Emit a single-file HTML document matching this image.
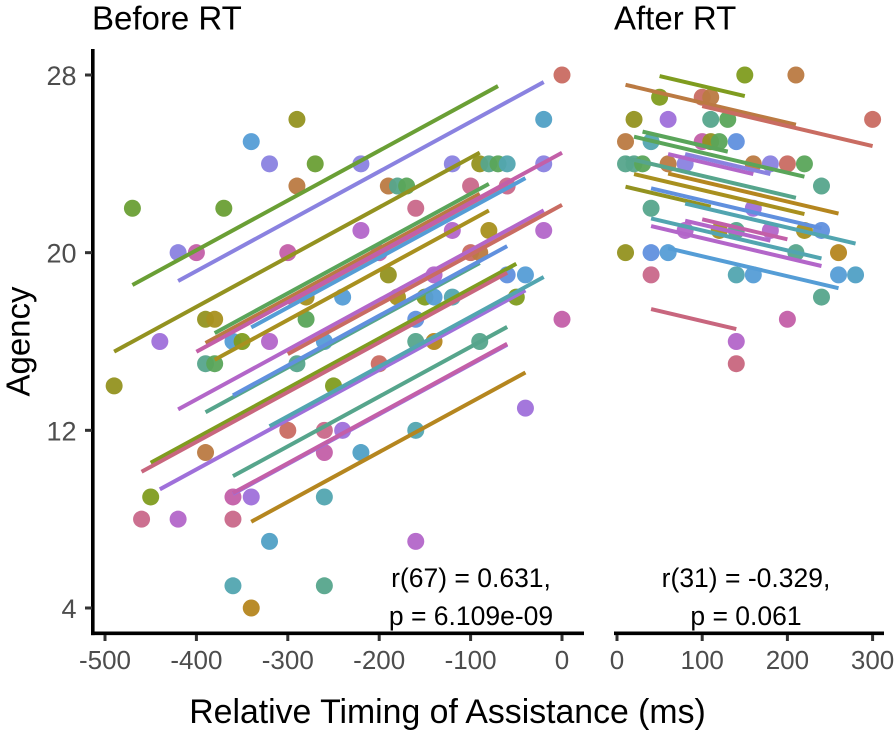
<!DOCTYPE html>
<html lang="en">
<head>
<meta charset="utf-8">
<title>Agency vs Relative Timing of Assistance</title>
<style>
html,body{margin:0;padding:0;background:#fff;}
svg{display:block;font-family:"Liberation Sans",Arial,sans-serif;}
</style>
</head>
<body>
<svg id="chart" xmlns="http://www.w3.org/2000/svg" width="896" height="737" viewBox="0 0 896 737">
  <rect width="896" height="737" fill="#fff"/>
  <g id="marks-before"></g>
  <g id="marks-after"></g>
  <g id="axes"></g>
  <text x="92" y="29.5" font-size="33" fill="#000">Before RT</text>
  <text x="614" y="29.5" font-size="33" fill="#000">After RT</text>
  <text transform="translate(29.5,341.5) rotate(-90)" text-anchor="middle" font-size="33" fill="#000">Agency</text>
  <text x="447.5" y="723" text-anchor="middle" font-size="33.8" fill="#000">Relative Timing of Assistance (ms)</text>
  <text x="471" y="587" text-anchor="middle" font-size="26.5" fill="#000">r(67) = 0.631,</text>
  <text x="471" y="625" text-anchor="middle" font-size="26.5" fill="#000">p = 6.109e-09</text>
  <text x="746" y="587" text-anchor="middle" font-size="26.5" fill="#000">r(31) = -0.329,</text>
  <text x="746" y="625" text-anchor="middle" font-size="26.5" fill="#000">p = 0.061</text>
</svg>
<script>
// Tick labels
const agencyTicks = [4, 12, 20, 28];
const beforeTimingTicks = [-500, -400, -300, -200, -100, 0];
const afterTimingTicks = [0, 100, 200, 300];

// Before RT scatter
const beforeTiming = [-490,-470,-450,-460,-440,-420,-420,-400,-390,-380,-390,-380,-390,-370,-360,-350,-360,-360,-360,-340,-340,-340,-320,-320,-320,-300,-300,-290,-290,-290,-280,-280,-270,-260,-260,-260,-260,-260,-250,-240,-240,-220,-220,-220,-200,-200,-190,-190,-180,-170,-180,-160,-160,-160,-160,-160,-150,-140,-140,-140,-120,-120,-120,-100,-100,-90,-90,-90,-80,-80,-70,-60,-60,-60,-50,-40,-40,-20,-20,-20,0,0];
const beforeAgency = [14,22,9,8,16,20,8,20,15,15,17,17,11,22,16,16,9,8,5,25,9,4,24,16,7,20,12,26,23,15,18,17,24,16,12,11,9,5,14,18,12,24,21,11,20,15,23,19,23,23,18,22,17,16,12,7,18,19,18,16,24,21,18,23,20,24,20,16,24,21,24,24,23,19,18,19,13,26,24,21,28,17];
const beforeParticipant = ['olive','green','oliveGreen','rose','purple','periwinkle','orchid','magenta','tealGreen','leaf','olive','gold','brown','green','blue','oliveGreen','magenta','rose','teal','blue','purple','amber','periwinkle','orchid','skyTeal','magenta','red','olive','brown','tealGreen','gold','leaf','green','blue','rose','magenta','teal','tealGreen','oliveGreen','blue','purple','periwinkle','orchid','skyTeal','magenta','red','brown','olive','tealGreen','leaf','gold','rose','cornflower','tealGreen','teal','orchid','oliveGreen','orchid','blue','amber','periwinkle','orchid','teal','rose','red','olive','brown','tealGreen','tealGreen','gold','leaf','teal','rose','cornflower','oliveGreen','blue','purple','skyTeal','periwinkle','orchid','red','magenta'];

// Before RT participant fits (shared slope, per-participant intercept)
const beforeSlope = 0.0224;
const beforeFitParticipant = ['green','periwinkle','olive','leaf','brown','rose','magenta','blue','gold','orchid','red','tealGreen','cornflower','oliveGreen','crimson','purple','teal','tealGreen','purple','magenta','amber'];
const beforeFitStart = [-470,-420,-490,-380,-390,-300,-400,-340,-380,-420,-300,-390,-360,-450,-460,-440,-320,-360,-360,-360,-340];
const beforeFitEnd = [-70,-20,-90,-80,-90,-60,0,-40,-80,-20,0,-90,-60,-50,-60,-40,-20,-60,-60,-60,-40];
const beforeFitIntercept = [29.07,28.13,26.52,24.89,24.67,24.45,24.5,24.25,23.69,22.35,22.15,21.55,21.64,20.62,20.44,19.2,19.35,18.0,17.2,17.24,15.5];

// After RT scatter
const afterTiming = [150,210,50,100,110,20,60,110,130,300,10,40,100,110,120,140,10,20,30,60,80,160,180,200,220,240,40,160,80,120,140,180,220,240,10,40,60,210,260,40,140,160,260,280,240,200,140,140];
const afterAgency = [28,28,27,27,27,26,26,26,26,26,25,25,25,25,25,25,24,24,24,24,24,24,24,24,24,23,22,22,21,21,21,21,21,21,20,20,20,20,20,19,19,19,19,19,18,17,16,15];
const afterParticipant = ['oliveGreen','brown','oliveGreen','red','brown','olive','purple','tealGreen','leaf','red','brown','teal','magenta','olive','leaf','cornflower','tealGreen','tealGreen','leaf','brown','periwinkle','brown','periwinkle','red','leaf','tealGreen','tealGreen','purple','orchid','gold','tealGreen','orchid','gold','cornflower','olive','cornflower','blue','tealGreen','amber','rose','teal','blue','blue','skyTeal','tealGreen','magenta','orchid','crimson'];

// After RT participant fits
const afterSlope = -0.009;
const afterFitParticipant = ['oliveGreen','brown','red','leaf','leaf','orchid','periwinkle','tealGreen','gold','amber','olive','cornflower','teal','teal','orchid','magenta','orchid','blue','crimson'];
const afterFitStart = [50,10,100,30,20,60,80,10,20,60,10,40,80,40,80,100,40,60,40];
const afterFitEnd = [150,210,300,130,220,160,180,210,220,260,110,240,280,240,180,200,240,260,140];
const afterFitIntercept = [28.4,27.65,27.5,25.72,25.4,24.98,25.16,24.36,23.72,24.1,23.06,23.26,22.93,21.9,22.16,22.4,21.56,20.74,17.82];

const participantColor = {
  green:'#6a9f35', leaf:'#5aa55a', olive:'#939220', oliveGreen:'#7f9c1f', gold:'#a8901f', amber:'#b5861f',
  brown:'#bb7a42', red:'#c96c62', crimson:'#c8667e', rose:'#c9688a', magenta:'#c35fa8', orchid:'#b366c9',
  purple:'#9f70da', periwinkle:'#8a82e0', cornflower:'#6090de', blue:'#559dd6', skyTeal:'#50a0c5',
  teal:'#52a5b0', tealGreen:'#56a58c'
};

const SVG_NS = 'http://www.w3.org/2000/svg';
const scaleLinear = (d0, d1, r0, r1) => v => r0 + (v - d0) * (r1 - r0) / (d1 - d0);
const yAgency = scaleLinear(4, 28, 608, 75);
const xBefore = scaleLinear(-500, 0, 105, 562);
const xAfter = scaleLinear(0, 300, 617, 872.6);

function svgEl(tag, parent) {
  const el = document.createElementNS(SVG_NS, tag);
  parent.appendChild(el);
  return el;
}
function setAll(el, attrs) {
  for (const k in attrs) el.setAttribute(k, attrs[k]);
}

function drawPanel(group, xScale, timing, agency, participant, slope, fitP, fitStart, fitEnd, fitIntercept) {
  timing.forEach((t, i) => {
    const c = svgEl('circle', group);
    setAll(c, {cx: xScale(t), cy: yAgency(agency[i]), r: 8.5, fill: participantColor[participant[i]], 'fill-opacity': 0.95});
    
    
  });
  fitP.forEach((p, i) => {
    const l = svgEl('line', group);
    setAll(l, {
      x1: xScale(fitStart[i]), y1: yAgency(fitIntercept[i] + slope * fitStart[i]),
      x2: xScale(fitEnd[i]), y2: yAgency(fitIntercept[i] + slope * fitEnd[i]),
      stroke: participantColor[p], 'stroke-width': 4
    });
    
    
  });
}

drawPanel(document.getElementById('marks-before'), xBefore, beforeTiming, beforeAgency, beforeParticipant, beforeSlope, beforeFitParticipant, beforeFitStart, beforeFitEnd, beforeFitIntercept);
drawPanel(document.getElementById('marks-after'), xAfter, afterTiming, afterAgency, afterParticipant, afterSlope, afterFitParticipant, afterFitStart, afterFitEnd, afterFitIntercept);

const axes = document.getElementById('axes');
const AXIS_Y = 633.3;

function axisLine(x1, y1, x2, y2, name) {
  const l = svgEl('line', axes);
  setAll(l, {x1, y1, x2, y2, stroke: '#000', 'stroke-width': 3.6});
  
  
}
axisLine(92.8, 49, 92.8, AXIS_Y + 1.8, 'y-axis-line');
axisLine(91, AXIS_Y, 584, AXIS_Y, 'before-x-axis-line');
axisLine(614, AXIS_Y, 884, AXIS_Y, 'after-x-axis-line');

agencyTicks.forEach(v => {
  const t = svgEl('line', axes);
  setAll(t, {x1: 85, x2: 92, y1: yAgency(v), y2: yAgency(v), stroke: '#333', 'stroke-width': 3});
  
  
  const l = svgEl('text', axes);
  setAll(l, {x: 76.5, y: yAgency(v) + 10, 'text-anchor': 'end', 'font-size': 27, fill: '#4d4d4d'});
  
  
  l.textContent = v;
});

function xTicks(ticks, scale) {
  ticks.forEach(v => {
    const t = svgEl('line', axes);
    setAll(t, {x1: scale(v), x2: scale(v), y1: 635, y2: 641, stroke: '#333', 'stroke-width': 3});
    
    
    const l = svgEl('text', axes);
    setAll(l, {x: scale(v), y: 669, 'text-anchor': 'middle', 'font-size': 26, fill: '#4d4d4d'});
    
    
    l.textContent = v;
  });
}
xTicks(beforeTimingTicks, xBefore);
xTicks(afterTimingTicks, xAfter);
</script>
</body>
</html>
